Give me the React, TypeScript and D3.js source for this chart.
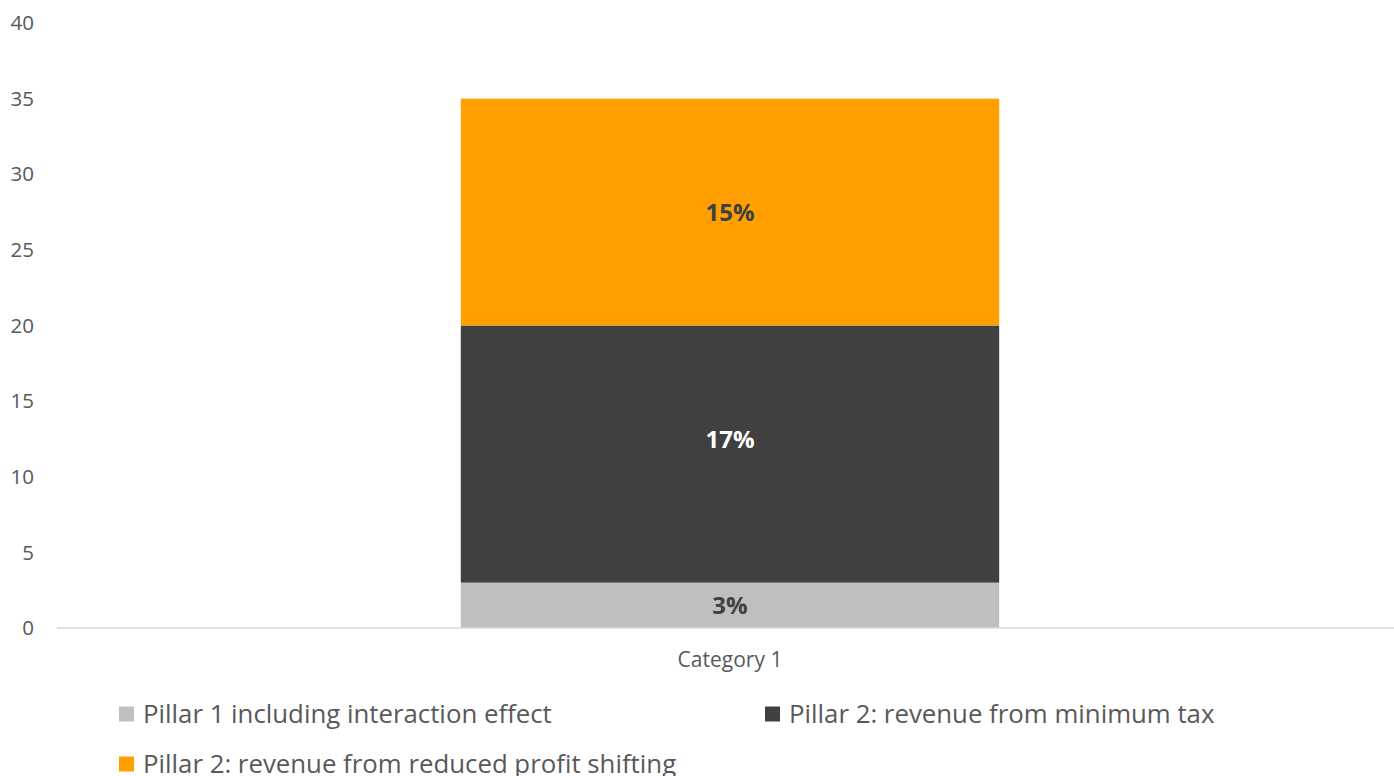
import React from "react";
import * as d3 from "d3";

const categories = ["Category 1"];
const seriesNames = [
  "Pillar 1 including interaction effect",
  "Pillar 2: revenue from minimum tax",
  "Pillar 2: revenue from reduced profit shifting",
];
const seriesValues = [[3], [17], [15]];
const seriesLabels = ["3%", "17%", "15%"];
const seriesColors = ["#bfbfbf", "#404040", "#ffa000"];
const labelColors = ["#404040", "#ffffff", "#404040"];
const labelShift = [0, -14, 1];
const yTicks = [0, 5, 10, 15, 20, 25, 30, 35, 40];

const W = 1394;
const H = 776;
const FONT = "'Open Sans', 'Noto Sans', sans-serif";
const TEXT = "#595959";

export default function App() {
  const plotLeft = 57;
  const plotRight = 1403;
  const y = d3.scaleLinear().domain([0, 40]).range([628, 23]);
  const x = d3.scaleBand<string>().domain(categories).range([plotLeft, plotRight]).paddingInner(0.6).paddingOuter(0.299);

  const stackData = categories.map((c, i) => {
    const row: Record<string, number | string> = { category: c };
    seriesNames.forEach((s, k) => (row[s] = seriesValues[k][i]));
    return row;
  });
  const stacked = d3.stack<Record<string, number | string>>().keys(seriesNames)(stackData as any);

  const legendItems = [
    { x: 119, y: 714 },
    { x: 765, y: 714 },
    { x: 119, y: 764 },
  ];

  return (
    <svg width={W} height={H} style={{ position: "absolute", left: 0, top: 0, background: "#fff" }} fontFamily={FONT}>
      {yTicks.map((t) => (
        <text key={t} x={34} y={y(t)} dy="0.35em" textAnchor="end" fontSize={20.5} fill={TEXT}>
          {t}
        </text>
      ))}
      {stacked.map((layer, k) =>
        layer.map((d, i) => {
          const cat = categories[i];
          const bx = x(cat)!;
          const bw = x.bandwidth();
          return (
            <g key={`${k}-${i}`}>
              <rect x={bx} y={y(d[1])} width={bw} height={y(d[0]) - y(d[1])} fill={seriesColors[k]} />
              <text
                x={bx + bw / 2}
                y={(y(d[0]) + y(d[1])) / 2 + labelShift[k]}
                dy="0.35em"
                textAnchor="middle"
                fontSize={24}
                fontWeight="bold"
                fill={labelColors[k]}
              >
                {seriesLabels[k]}
              </text>
            </g>
          );
        })
      )}
      <line x1={plotLeft} x2={plotRight} y1={y(0)} y2={y(0)} stroke="#d9d9d9" strokeWidth={1.5} />
      {categories.map((c) => (
        <text key={c} x={x(c)! + x.bandwidth() / 2} y={660} dy="0.35em" textAnchor="middle" fontSize={21} fill={TEXT}>
          {c}
        </text>
      ))}
      {seriesNames.map((s, k) => (
        <g key={s}>
          <rect x={legendItems[k].x} y={legendItems[k].y - 7.5} width={15} height={15} fill={seriesColors[k]} />
          <text x={legendItems[k].x + 24} y={legendItems[k].y} dy="0.35em" fontSize={25.8} fill={TEXT}>
            {s}
          </text>
        </g>
      ))}
    </svg>
  );
}
